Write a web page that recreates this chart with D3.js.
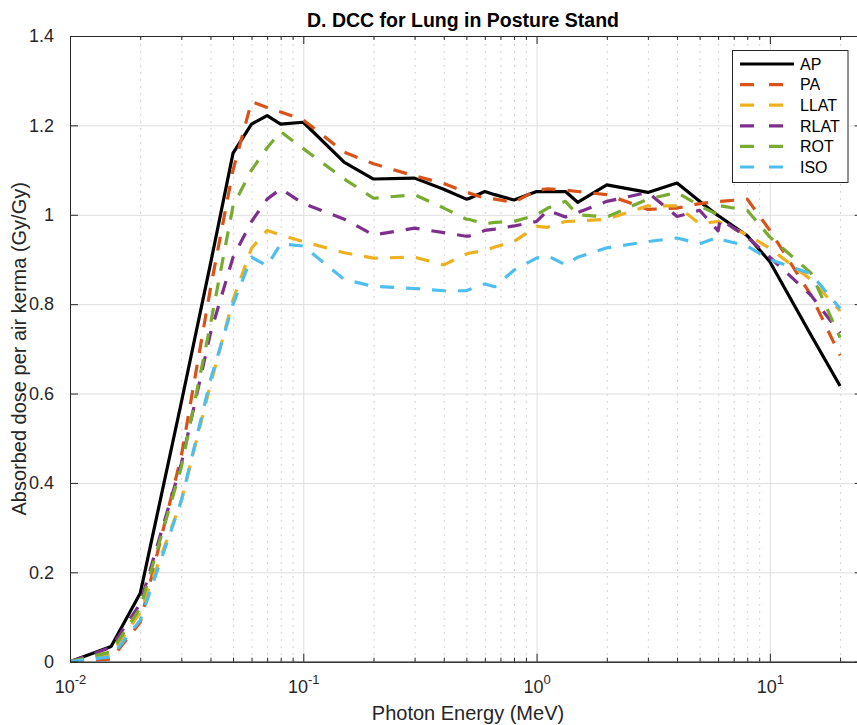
<!DOCTYPE html>
<html>
<head>
<meta charset="utf-8">
<script src="https://cdn.jsdelivr.net/npm/d3@7/dist/d3.min.js"></script>
<style>
  html, body { margin: 0; padding: 0; background: #fff; }
  svg text { font-family: "Liberation Sans", Arial, Helvetica, sans-serif; fill: #262626; }
</style>
</head>
<body>
<svg id="chart" width="857" height="725"></svg>
<script>
// ---- data ----
const energies = [0.01, 0.015, 0.02, 0.03, 0.04, 0.05, 0.06, 0.07, 0.08, 0.1, 0.15, 0.2, 0.3, 0.4, 0.5, 0.511, 0.6, 0.662, 0.8, 1, 1.117, 1.33, 1.5, 2, 3, 4, 5, 6, 6.129, 8, 10, 15, 20];
const AP   = [0, 0.034, 0.153, 0.58, 0.89, 1.138, 1.203, 1.222, 1.203, 1.207, 1.117, 1.080, 1.082, 1.057, 1.035, 1.036, 1.052, 1.045, 1.033, 1.052, 1.052, 1.052, 1.028, 1.067, 1.050, 1.071, 1.030, 0.998, 0.995, 0.953, 0.895, 0.731, 0.617];
const PA   = [0, 0.006, 0.088, 0.46, 0.835, 1.100, 1.253, 1.240, 1.230, 1.212, 1.140, 1.114, 1.087, 1.070, 1.050, 1.049, 1.037, 1.035, 1.028, 1.055, 1.058, 1.055, 1.052, 1.045, 1.012, 1.015, 1.025, 1.030, 1.030, 1.035, 0.965, 0.820, 0.685];
const LLAT = [0, 0.017, 0.110, 0.36, 0.620, 0.810, 0.925, 0.965, 0.955, 0.940, 0.915, 0.903, 0.905, 0.888, 0.912, 0.914, 0.920, 0.928, 0.940, 0.974, 0.972, 0.985, 0.986, 0.990, 1.020, 1.020, 0.980, 0.985, 0.983, 0.955, 0.925, 0.855, 0.785];
const RLAT = [0, 0.032, 0.130, 0.443, 0.735, 0.905, 0.985, 1.035, 1.058, 1.025, 0.990, 0.955, 0.970, 0.960, 0.952, 0.952, 0.965, 0.968, 0.975, 0.985, 1.010, 0.995, 1.005, 1.030, 1.050, 0.996, 1.010, 0.964, 0.990, 0.950, 0.905, 0.820, 0.735];
const ROT  = [0, 0.022, 0.120, 0.435, 0.755, 1.020, 1.100, 1.150, 1.186, 1.148, 1.080, 1.037, 1.045, 1.015, 0.990, 0.990, 0.980, 0.983, 0.985, 1.000, 1.015, 1.030, 1.000, 0.995, 1.035, 1.050, 1.020, 1.000, 1.020, 1.010, 0.950, 0.870, 0.725];
const ISO  = [0, 0.011, 0.093, 0.36, 0.630, 0.800, 0.905, 0.886, 0.935, 0.930, 0.855, 0.840, 0.835, 0.830, 0.830, 0.832, 0.845, 0.839, 0.876, 0.903, 0.908, 0.888, 0.905, 0.926, 0.940, 0.948, 0.935, 0.950, 0.945, 0.930, 0.900, 0.868, 0.790];
const seriesNames = ["AP", "PA", "LLAT", "RLAT", "ROT", "ISO"];
const seriesValues = [AP, PA, LLAT, RLAT, ROT, ISO];
const seriesColors = ["#000000", "#D95319", "#EDB120", "#7E2F8E", "#77AC30", "#4DBEEE"];
const yTicks = [0, 0.2, 0.4, 0.6, 0.8, 1, 1.2, 1.4];
const yTickLabels = ["0", "0.2", "0.4", "0.6", "0.8", "1", "1.2", "1.4"];
const xMajorTicks = [0.01, 0.1, 1, 10];
const xMajorExp = ["-2", "-1", "0", "1"];
const titleText = "D. DCC for Lung in Posture Stand";
const xLabelText = "Photon Energy (MeV)";
const yLabelText = "Absorbed dose per air kerma (Gy/Gy)";

// ---- layout ----
const L = 70, T = 36, R = 862.7, B = 661.7;
const svg = d3.select("#chart");
const x = d3.scaleLog().domain([0.01, 25]).range([L, R]);
const y = d3.scaleLinear().domain([0, 1.4]).range([B, T]);

const xMinor = [];
[0.01, 0.1, 1, 10].forEach(d => { for (let k = 2; k <= 9; k++) { const v = d * k; if (v <= 25) xMinor.push(v); } });

const axisColor = "#262626";

svg.append("defs").append("clipPath").attr("id", "clip")
  .append("rect").attr("x", L).attr("y", T).attr("width", R - L).attr("height", B - T);

// grid
const grid = svg.append("g");
grid.append("g").attr("transform", `translate(0,${B})`)
  .call(d3.axisBottom(x).tickValues(xMinor).tickSize(-(B - T)).tickFormat(""))
  .call(g => g.select(".domain").remove())
  .call(g => g.selectAll("line").attr("stroke", "#c4c4c4").attr("stroke-width", 1).attr("stroke-dasharray", "1.5,5.5"));
grid.append("g").attr("transform", `translate(0,${B})`)
  .call(d3.axisBottom(x).tickValues(xMajorTicks).tickSize(-(B - T)).tickFormat(""))
  .call(g => g.select(".domain").remove())
  .call(g => g.selectAll("line").attr("stroke", "#dedede").attr("stroke-width", 1));
grid.append("g").attr("transform", `translate(${L},0)`)
  .call(d3.axisLeft(y).tickValues(yTicks).tickSize(-(R - L)).tickFormat(""))
  .call(g => g.select(".domain").remove())
  .call(g => g.selectAll("line").attr("stroke", "#dedede").attr("stroke-width", 1));

// lines
const line = d3.line().x((d, i) => x(energies[i])).y(d => y(d));
const plot = svg.append("g").attr("clip-path", "url(#clip)");
seriesValues.forEach((vals, si) => {
  plot.append("path")
    .datum(vals)
    .attr("d", line)
    .attr("fill", "none")
    .attr("stroke", seriesColors[si])
    .attr("stroke-width", 3.2)
    .attr("stroke-linejoin", "round")
    .attr("stroke-dasharray", si === 0 ? null : "14,12");
});

// axes
function styleAxis(g) {
  g.selectAll("line").attr("stroke", axisColor).attr("stroke-width", 1);
  g.select(".domain").attr("stroke", axisColor).attr("stroke-width", 1);
}
svg.append("g").attr("transform", `translate(0,${B})`)
  .call(d3.axisBottom(x).tickValues(xMinor).tickSizeInner(-4).tickSizeOuter(0).tickFormat(""))
  .call(styleAxis);
const bottomMajor = svg.append("g").attr("transform", `translate(0,${B})`)
  .call(d3.axisBottom(x).tickValues(xMajorTicks).tickSizeInner(-8).tickSizeOuter(0).tickFormat(""))
  .call(styleAxis);
svg.append("g").attr("transform", `translate(0,${T})`)
  .call(d3.axisTop(x).tickValues(xMinor).tickSizeInner(-4).tickSizeOuter(0).tickFormat(""))
  .call(styleAxis);
svg.append("g").attr("transform", `translate(0,${T})`)
  .call(d3.axisTop(x).tickValues(xMajorTicks).tickSizeInner(-8).tickSizeOuter(0).tickFormat(""))
  .call(styleAxis);
svg.append("g").attr("transform", `translate(${L},0)`)
  .call(d3.axisLeft(y).tickValues(yTicks).tickSizeInner(-8).tickSizeOuter(0).tickPadding(16)
    .tickFormat((d, i) => yTickLabels[i]))
  .call(styleAxis)
  .call(g => g.selectAll("text").attr("font-size", 18).style("fill", axisColor));
svg.append("g").attr("transform", `translate(${R},0)`)
  .call(d3.axisRight(y).tickValues(yTicks).tickSizeInner(-8).tickSizeOuter(0).tickFormat(""))
  .call(styleAxis);

bottomMajor.selectAll(".tick").each(function(d, i) {
  const t = d3.select(this).append("text")
    .attr("y", 31).attr("text-anchor", "middle").attr("font-size", 18).style("fill", axisColor);
  t.append("tspan").text("10");
  t.append("tspan").attr("dy", -9).attr("font-size", 13).text(xMajorExp[i]);
});

// title & labels
svg.append("text").attr("x", (L + 856) / 2).attr("y", 27).attr("text-anchor", "middle")
  .attr("font-size", 19.5).attr("font-weight", "bold").style("fill", "#000").text(titleText);
svg.append("text").attr("x", (L + 856) / 2 + 5).attr("y", 720).attr("text-anchor", "middle")
  .attr("font-size", 20).text(xLabelText);
svg.append("text").attr("transform", `translate(26,${(T + B) / 2}) rotate(-90)`).attr("text-anchor", "middle")
  .attr("font-size", 20).text(yLabelText);

// legend
const lg = svg.append("g");
lg.append("rect").attr("x", 732.5).attr("y", 50.5).attr("width", 115.5).attr("height", 132)
  .attr("fill", "#fff").attr("stroke", axisColor).attr("stroke-width", 1);
seriesNames.forEach((n, i) => {
  const yy = 64 + i * 20.6;
  lg.append("line").attr("x1", 740).attr("x2", 794).attr("y1", yy).attr("y2", yy)
    .attr("stroke", seriesColors[i]).attr("stroke-width", 3.2)
    .attr("stroke-dasharray", i === 0 ? null : "14,15");
  lg.append("text").attr("x", 800).attr("y", yy).attr("dy", "0.36em")
    .attr("font-size", 16).style("fill", "#000").text(n);
});
</script>
</body>
</html>
